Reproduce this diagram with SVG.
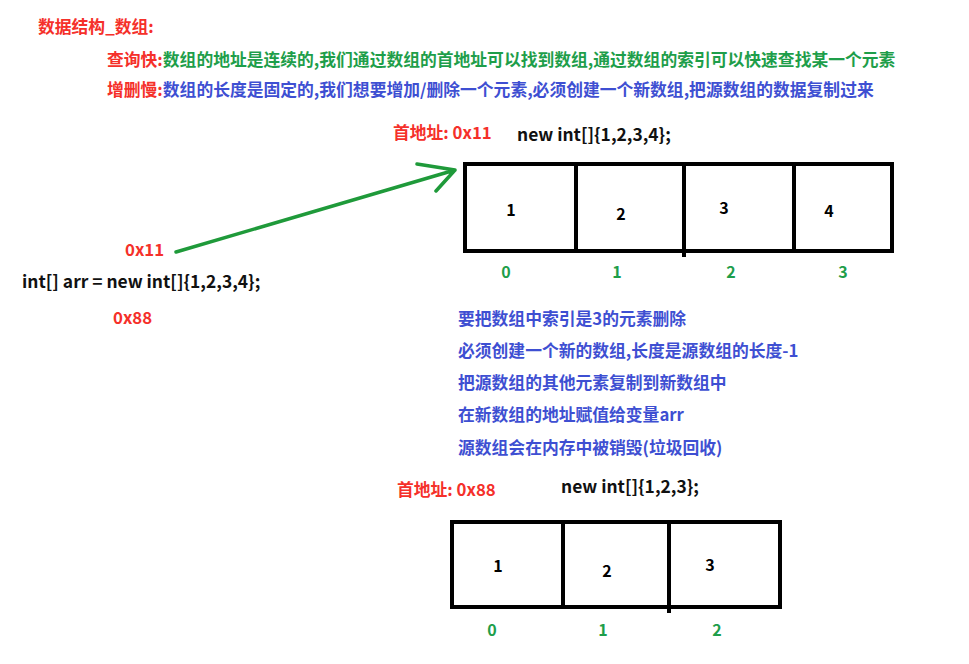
<svg xmlns="http://www.w3.org/2000/svg" width="969" height="664" viewBox="0 0 969 664">
<style>
text{font-family:"Microsoft YaHei","Noto Sans CJK SC",sans-serif;font-weight:bold;font-size:16.8px}
.r{fill:#f5302a}
.g{fill:#1e9e4a}
.b{fill:#3e4fd2}
.k{fill:#111}
.lat{font-size:17.4px}
.cell{fill:none;stroke:#000;stroke-width:4}
.num{font-size:16px;fill:#000;text-anchor:middle}
.idx{font-size:16px;fill:#1e9e4a;text-anchor:middle}
.arrow{fill:none;stroke:#1f9a3a;stroke-width:3.5;stroke-linecap:round;stroke-linejoin:round}
</style>
<rect width="969" height="664" fill="#fff"/>
<g id="title"><text class="r" x="38" y="33">数据结构_数组:</text></g>
<g id="line-query"><text x="107" y="66"><tspan class="r">查询快:</tspan><tspan class="g">数组的地址是连续的,我们通过数组的首地址可以找到数组,通过数组的索引可以快速查找某一个元素</tspan></text></g>
<g id="line-modify"><text x="107" y="96"><tspan class="r">增删慢:</tspan><tspan class="b">数组的长度是固定的,我们想要增加/删除一个元素,必须创建一个新数组,把源数组的数据复制过来</tspan></text></g>

<g id="addr1"><text class="r" x="393" y="139">首地址: 0x11</text></g>
<g id="new1"><text class="k lat" x="517" y="141">new int[]{1,2,3,4};</text></g>

<g id="array1">
<rect class="cell" x="465" y="164" width="427" height="87"/>
<line class="cell" x1="576" y1="164" x2="576" y2="251"/>
<line class="cell" x1="684" y1="164" x2="684" y2="257"/>
<line class="cell" x1="794" y1="164" x2="794" y2="251"/>
<text class="num" x="511" y="216">1</text>
<text class="num" x="621" y="220">2</text>
<text class="num" x="724" y="214">3</text>
<text class="num" x="829" y="217">4</text>
<text class="idx" x="506" y="278">0</text>
<text class="idx" x="617" y="278">1</text>
<text class="idx" x="731" y="278">2</text>
<text class="idx" x="843" y="278">3</text>
</g>

<g id="ref-0x11"><text class="r" x="125" y="256">0x11</text></g>
<g id="decl"><text class="k lat" x="22" y="288">int[] arr = new int[]{1,2,3,4};</text></g>
<g id="ref-0x88"><text class="r" x="113" y="324">0x88</text></g>

<g id="steps">
<text class="b" x="458" y="325">要把数组中索引是3的元素删除</text>
<text class="b" x="458" y="357">必须创建一个新的数组,长度是源数组的长度-1</text>
<text class="b" x="458" y="389">把源数组的其他元素复制到新数组中</text>
<text class="b" x="458" y="421">在新数组的地址赋值给变量arr</text>
<text class="b" x="458" y="454">源数组会在内存中被销毁(垃圾回收)</text>
</g>

<g id="addr2"><text class="r" x="397" y="496">首地址: 0x88</text></g>
<g id="new2"><text class="k lat" x="561" y="493">new int[]{1,2,3};</text></g>

<g id="array2">
<rect class="cell" x="452" y="522" width="328" height="85"/>
<line class="cell" x1="563" y1="522" x2="563" y2="607"/>
<line class="cell" x1="669" y1="522" x2="669" y2="613"/>
<text class="num" x="498" y="572">1</text>
<text class="num" x="607" y="577">2</text>
<text class="num" x="710" y="571">3</text>
<text class="idx" x="492" y="636">0</text>
<text class="idx" x="603" y="636">1</text>
<text class="idx" x="717" y="636">2</text>
</g>

<g id="connectors">
<path class="arrow" d="M176,252 L455,170 M417,164 L455,170 L436,191"/>
</g>
</svg>
